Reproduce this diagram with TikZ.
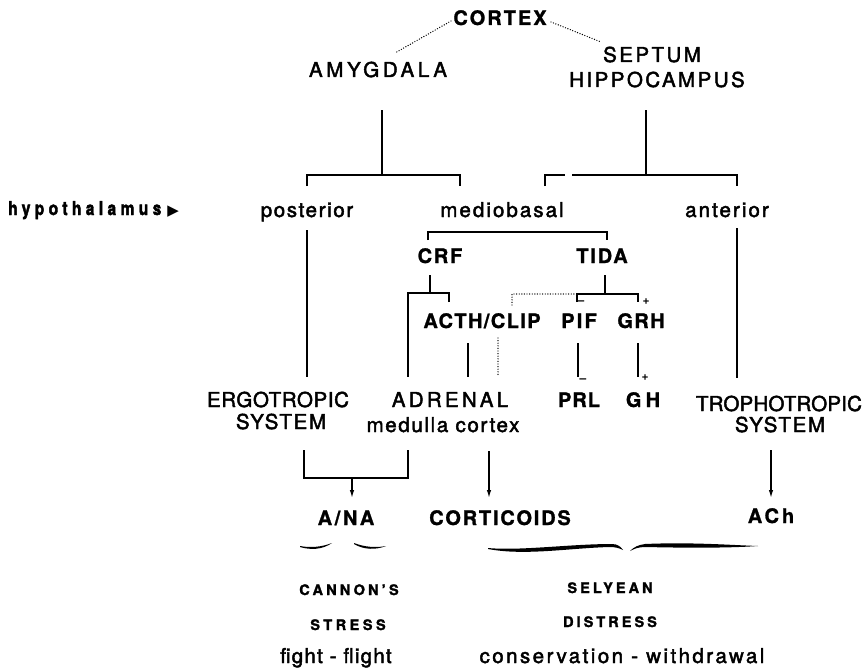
\documentclass[tikz,border=0pt]{standalone}
\usepackage{fontspec}
\usepackage{graphicx}
\setmainfont{TeX Gyre Heros}
\newfontfamily\symfont{DejaVu Sans}
\usetikzlibrary{arrows.meta}

\tikzset{
  txt/.style={inner sep=0pt, anchor=base},
  roman/.style={txt, font={\fontsize{20.5}{24}\selectfont\addfontfeatures{LetterSpace=#1,FakeBold=2.2}}},
  heavy/.style={txt, font={\fontsize{20}{24}\selectfont\bfseries\addfontfeatures{LetterSpace=#1,FakeBold=1.2}}},
  note/.style={txt, font={\fontsize{14.5}{16}\selectfont\bfseries\addfontfeatures{LetterSpace=#1,FakeBold=1.8}}},
  sign/.style={inner sep=0pt, font={\fontsize{12}{12}\selectfont\bfseries}},
  wire/.style={line width=1.6pt},
  dots/.style={line width=1.4pt, dash pattern=on 0pt off 2.6pt, line cap=round},
  arrow/.style={line width=1.3pt, -{Latex[length=8pt,width=4.5pt]}},
  brace/.style={fill=black}
}

\begin{document}
\begin{tikzpicture}[x=1pt,y=-1pt]
\useasboundingbox (0,0) rectangle (865,669);

% ---- labels ----
\node[heavy=10] (cortex) at (500,25) {CORTEX};
\node[roman=18] (amygdala) at (378,77) {AMYGDALA};
\node[roman=12] (septum) at (652,62) {SEPTUM};
\node[roman=12] (hippo) at (657,87) {HIPPOCAMPUS};

\node[inner sep=0pt, anchor=base west] (hypo) at (8,215)
  {\scalebox{0.82}[1]{\fontsize{19}{22}\selectfont\bfseries\addfontfeatures{LetterSpace=28,FakeBold=2.5}hypothalamus}\hspace{6pt}{\symfont\fontsize{15}{15}\selectfont ▶}};
\node[roman=8] (posterior) at (307,217) {posterior};
\node[roman=10] (mediobasal) at (502,217) {mediobasal};
\node[roman=10] (anterior) at (727,217) {anterior};

\node[heavy=9] (crf) at (440,263) {CRF};
\node[heavy=9] (tida) at (602,263) {TIDA};
\node[heavy=7] (acth) at (482,328) {ACTH/CLIP};
\node[heavy=11] (pif) at (579,328) {PIF};
\node[heavy=7] (grh) at (641,328) {GRH};

\node[roman=3] (ergo) at (278,407) {ERGOTROPIC};
\node[roman=8] (ergosys) at (281,429) {SYSTEM};
\node[roman=16] (adrenal) at (450,407) {ADRENAL};
\node[roman=8] (adrparts) at (443,432) {medulla cortex};
\node[heavy=5] (prl) at (579,407) {PRL};
\node[heavy=21] (gh) at (643,407) {GH};
\node[roman=1] (tropho) at (779,411) {TROPHOTROPIC};
\node[roman=8] (trophosys) at (780,432) {SYSTEM};

\node[heavy=13] (ana) at (346,525) {A/NA};
\node[heavy=9] (corticoids) at (500,525) {CORTICOIDS};
\node[heavy=15] (ach) at (771,523) {ACh};

\node[note=22] (cannon) at (349,595) {CANNON'S};
\node[note=24] (stress) at (348,630) {STRESS};
\node[roman=6] (fight) at (336,663) {fight - flight};
\node[note=21] (selyean) at (610,593) {SELYEAN};
\node[note=21] (distress) at (610,627) {DISTRESS};
\node[roman=12] (conserv) at (622,663) {conservation - withdrawal};

% ---- signs at the prolactin / growth hormone branches ----
\node[sign] (pifIn) at (581,303) {–};
\node[sign] (grhIn) at (646,302) {+};
\node[sign] (prlIn) at (583,381) {–};
\node[sign] (ghIn) at (645,378) {+};

% ---- connector points ----
\coordinate (cxL) at (451,21);   \coordinate (amyIn) at (395,53);
\coordinate (cxR) at (551,22);   \coordinate (sepIn) at (601,42);
\coordinate (amyOut) at (382,110); \coordinate (amyFork) at (382,175);
\coordinate (postIn) at (307,186); \coordinate (medInL) at (460,186);
\coordinate (sepOut) at (646,110); \coordinate (sepFork) at (646,175);
\coordinate (medInR) at (545,186); \coordinate (gapL) at (565,175);
\coordinate (gapR) at (572,175);   \coordinate (antIn) at (737,186);
\coordinate (mbL) at (428,240);    \coordinate (mbR) at (607,240);
\coordinate (mbBar) at (428,232);
\coordinate (crfOut) at (430,275); \coordinate (crfFork) at (430,293);
\coordinate (acthIn) at (449,302); \coordinate (medullaIn) at (408,377);
\coordinate (tidaOut) at (605,275); \coordinate (tidaFork) at (605,294);
\coordinate (pifTick) at (577,302); \coordinate (grhTick) at (638,302);
\coordinate (clipDot) at (512,305);
\coordinate (acthOut) at (468,343); \coordinate (adrIn) at (468,377);
\coordinate (clipOut) at (498,338); \coordinate (cortexIn) at (498,377);
\coordinate (pifOut) at (578,343);  \coordinate (prlTop) at (578,377);
\coordinate (grhOut) at (638,343);  \coordinate (ghTop) at (638,377);
\coordinate (postOut) at (307,230); \coordinate (ergoIn) at (307,377);
\coordinate (antOut) at (737,228);  \coordinate (trophoIn) at (737,378);
\coordinate (ergoOut) at (304,450); \coordinate (medOut) at (408,450);
\coordinate (anaFork) at (352,478); \coordinate (anaIn) at (352,498);
\coordinate (cortOut) at (489,451); \coordinate (cortIn) at (489,498);
\coordinate (trOut) at (771,450);   \coordinate (achIn) at (771,498);

% ---- cortical links ----
\draw[dots] (cxL) -- (amyIn);
\draw[dots] (cxR) -- (sepIn);

% ---- limbic inputs to the hypothalamus ----
\draw[wire] (amyOut) -- (amyFork);
\draw[wire] (postIn) -- (postIn |- amyFork) -- (medInL |- amyFork) -- (medInL);
\draw[wire] (sepOut) -- (sepFork);
\draw[wire] (medInR) -- (medInR |- sepFork) -- (gapL);
\draw[wire] (gapR) -- (antIn |- sepFork) -- (antIn);

% ---- mediobasal releasing factors ----
\draw[wire] (mbL) -- (mbBar) -- (mbBar -| mbR) -- (mbR);
\draw[wire] (crfOut) -- (crfFork);
\draw[wire] (acthIn) -- (acthIn |- crfFork) -- (medullaIn |- crfFork) -- (medullaIn);
\draw[wire] (tidaOut) -- (tidaFork);
\draw[wire] (pifTick) -- (pifTick |- tidaFork) -- (grhTick |- tidaFork) -- (grhTick);
\draw[dots] (clipDot) -- (clipDot |- tidaFork) -- ([xshift=-3pt]pifTick |- tidaFork);

\draw[wire] (acthOut) -- (adrIn);
\draw[dots] (clipOut) -- (cortexIn);
\draw[wire] (pifOut) -- (prlTop);
\draw[wire] (grhOut) -- (ghTop);
\draw[wire] (postOut) -- (ergoIn);
\draw[wire] (antOut) -- (trophoIn);

% ---- effector outputs ----
\draw[wire] (ergoOut) -- (ergoOut |- anaFork) -- (medOut |- anaFork) -- (medOut);
\draw[arrow] (anaFork) -- (anaIn);
\draw[arrow] (cortOut) -- (cortIn);
\draw[arrow] (trOut) -- (achIn);

% ---- braces over the stress types ----
\fill[brace] (300,546) .. controls (310,548) and (322,547) .. (332,543)
  .. controls (322,550) and (310,550) .. (300,547) -- cycle;
\fill[brace] (354,543) .. controls (364,547) and (376,548) .. (386,546)
  .. controls (376,550) and (364,550) .. (354,544) -- cycle;
\fill[brace] (488,548) .. controls (520,551) and (570,544) .. (612,544)
  .. controls (618,544) and (621,547) .. (623,550)
  .. controls (619,548) and (615,547) .. (610,547)
  .. controls (570,548) and (525,556) .. (488,549) -- cycle;
\fill[brace] (630,551) .. controls (634,547) and (638,545) .. (645,544)
  .. controls (690,542) and (730,545) .. (758,546)
  .. controls (730,548) and (690,548) .. (645,547)
  .. controls (638,547) and (634,549) .. (630,551) -- cycle;
\end{tikzpicture}
\end{document}
